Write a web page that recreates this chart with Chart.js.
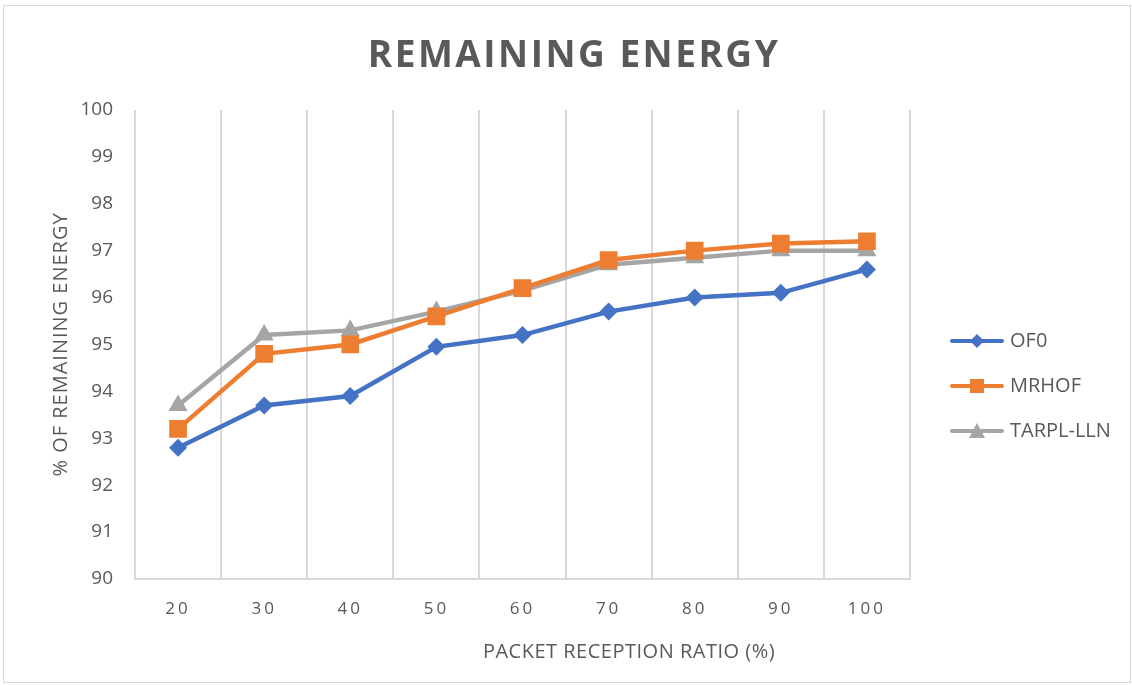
<!DOCTYPE html>
<html><head><meta charset="utf-8">
<script src="https://cdn.jsdelivr.net/npm/chart.js@4.4.1/dist/chart.umd.min.js"></script>
<style>
html,body{margin:0;padding:0;background:#fff;}
#wrap{position:absolute;left:0;top:0;width:1132px;height:685px;overflow:hidden;}
#frame{position:absolute;left:3px;top:5px;width:1126px;height:676px;border:1px solid #d9d9d9;pointer-events:none;}
</style></head>
<body><div id="wrap"><canvas id="c" width="1132" height="685"></canvas><div id="frame"></div></div>
<script>
const TITLE = 'REMAINING ENERGY';
const X_TITLE = 'PACKET RECEPTION RATIO (%)';
const Y_TITLE = '% OF REMAINING ENERGY';
const categories = ['20','30','40','50','60','70','80','90','100'];
const of0 = [92.8, 93.7, 93.9, 94.95, 95.2, 95.7, 96.0, 96.1, 96.6];
const mrhof = [93.2, 94.8, 95.0, 95.6, 96.2, 96.8, 97.0, 97.15, 97.2];
const tarpl = [93.7, 95.2, 95.3, 95.7, 96.15, 96.7, 96.85, 97.0, 97.0];
const seriesNames = ['OF0','MRHOF','TARPL-LLN'];
const yTicks = [90,91,92,93,94,95,96,97,98,99,100];

const colors = ['#4472C4','#ED7D31','#A5A5A5'];
const styles = ['rectRot','rect','triangle'];
const radii = [9, 12.5, 11];
const TEXT = '#595959';

function legendIcon(color, style){
  const c = document.createElement('canvas');
  c.width = 54; c.height = 22;
  const g = c.getContext('2d');
  g.strokeStyle = color; g.lineWidth = 4; g.lineCap = 'round';
  g.beginPath(); g.moveTo(2,11); g.lineTo(52,11); g.stroke();
  g.fillStyle = color;
  g.beginPath();
  if(style==='rectRot'){ g.moveTo(27,4); g.lineTo(34,11); g.lineTo(27,18); g.lineTo(20,11); g.closePath(); }
  else if(style==='rect'){ g.rect(20,4,14,14); }
  else { g.moveTo(27,3); g.lineTo(35,18); g.lineTo(19,18); g.closePath(); }
  g.fill();
  return c;
}

const datasets = [of0, mrhof, tarpl].map((d,i)=>({
  label: seriesNames[i],
  data: d,
  borderColor: colors[i],
  backgroundColor: colors[i],
  borderWidth: 4.5,
  pointStyle: styles[i],
  pointRadius: radii[i],
  pointHoverRadius: radii[i],
  pointBorderWidth: 0,
  tension: 0
}));

function wrap(obj, name, fn){
  if(!obj || obj['_w_'+name]) return;
  const orig = obj[name].bind(obj);
  obj[name] = function(...a){ return fn(orig, a); };
  obj['_w_'+name] = true;
}

const layoutPlugin = {
  id: 'excelLayout',
  beforeLayout(chart){
    wrap(chart.legend, 'fit', (orig, a) => { orig(...a); chart.legend.width = 222; });
  },
  afterLayout(chart){
    const lg = chart.legend;
    const dx = 929 - lg.left;
    lg.left += dx; lg.right += dx;
    const h = lg.bottom - lg.top;
    lg.top = 306; lg.bottom = 306 + Math.max(h, 200);
  },
  beforeDraw(chart){
    const ctx = chart.ctx;
    wrap(chart.titleBlock, 'draw', (orig, a) => {
      const tb = chart.titleBlock;
      ctx.save(); ctx.letterSpacing = '2.5px';
      ctx.translate(574 - (tb.left + tb.right)/2, 0);
      orig(...a); ctx.restore();
    });
    const xs = chart.scales.x, ys = chart.scales.y;
    wrap(xs, 'drawLabels', (orig, a) => { ctx.save(); ctx.letterSpacing = '3px'; orig(...a); ctx.restore(); });
    wrap(xs, 'drawTitle', (orig, a) => { ctx.save(); ctx.letterSpacing = '0.5px'; ctx.translate(629 - (chart.chartArea.left + chart.chartArea.right)/2, 0); orig(...a); ctx.restore(); });
    wrap(ys, 'drawTitle', (orig, a) => { ctx.save(); ctx.letterSpacing = '1px'; orig(...a); ctx.restore(); });
  }
};

new Chart(document.getElementById('c'), {
  type: 'line',
  data: { labels: categories, datasets },
  plugins: [layoutPlugin],
  options: {
    responsive: false,
    devicePixelRatio: 1,
    animation: false,
    layout: { padding: { left: 49, right: 0, top: 8, bottom: 21 } },
    plugins: {
      title: { display: true, text: TITLE, color: TEXT,
        font: { family: 'Open Sans', size: 37, weight: 'bold' },
        padding: { top: 26.5, bottom: 31 } },
      legend: { position: 'right', align: 'start',
        labels: {
          usePointStyle: true, pointStyleWidth: 46, boxHeight: 20,
          color: TEXT, font: { family: 'Open Sans', size: 20 }, padding: 25,
          generateLabels: (chart) => chart.data.datasets.map((ds,i)=>({
            text: ds.label, pointStyle: legendIcon(colors[i], styles[i]),
            fillStyle: colors[i], strokeStyle: colors[i], lineWidth: 0,
            fontColor: TEXT, datasetIndex: i, hidden: false
          }))
        } },
      tooltip: { enabled: false }
    },
    scales: {
      x: {
        offset: true,
        afterFit: (s) => { s.height = 85; },
        grid: { offset: true, color: '#d9d9d9', lineWidth: 2, drawTicks: false },
        border: { color: '#d9d9d9', width: 2 },
        ticks: { color: TEXT, font: { family: 'Open Sans', size: 17 }, padding: 20 },
        title: { display: true, text: X_TITLE, color: TEXT,
          font: { family: 'Open Sans', size: 20 }, padding: 0 }
      },
      y: {
        min: 90, max: 100,
        afterFit: (s) => { s.width = 86; },
        afterBuildTicks: (s) => { s.ticks = yTicks.map(v=>({value:v})); },
        grid: { display: false, drawTicks: false },
        border: { display: false },
        ticks: { color: TEXT, font: { family: 'Open Sans', size: 19 }, padding: 22 },
        title: { display: true, text: Y_TITLE, color: TEXT,
          font: { family: 'Open Sans', size: 20 }, padding: 0 }
      }
    }
  }
});
</script></body></html>
